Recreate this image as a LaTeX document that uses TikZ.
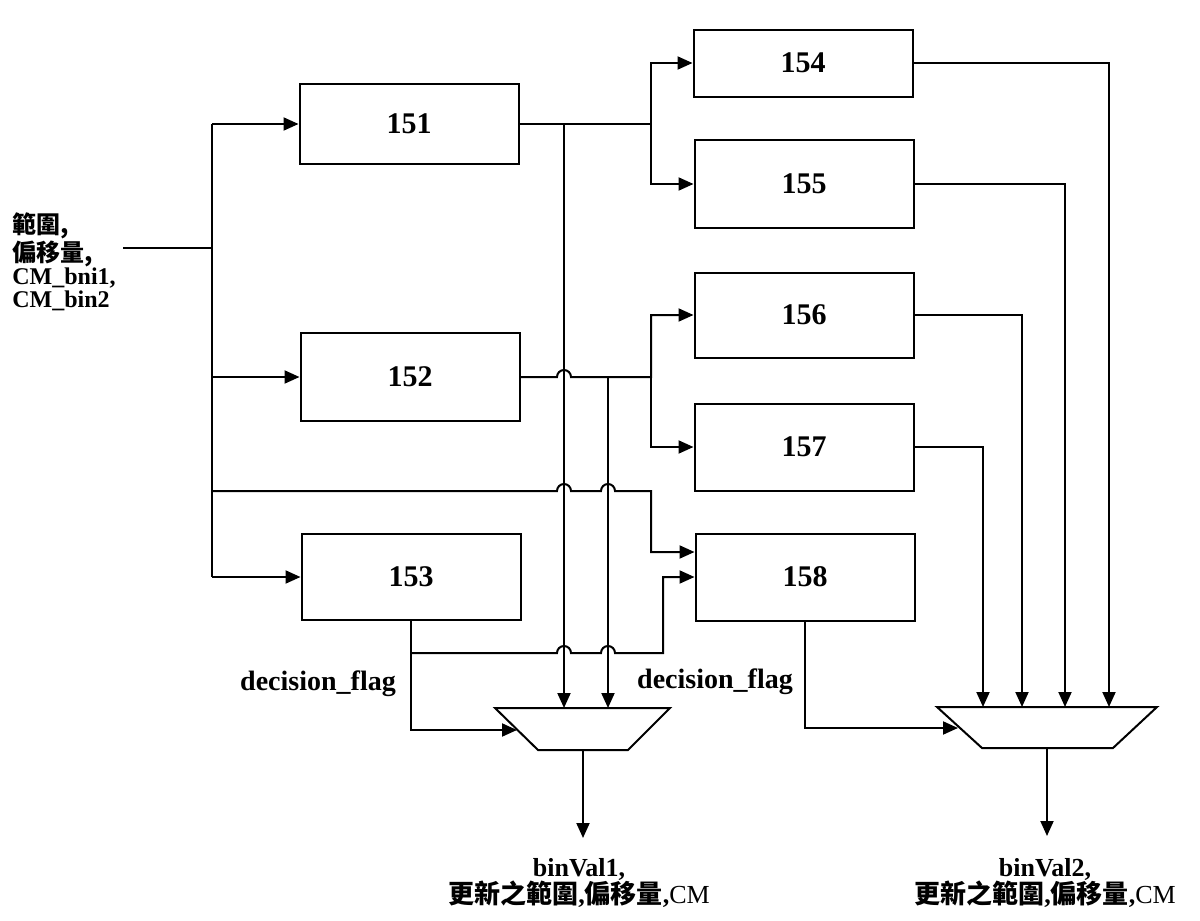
\documentclass[tikz,border=0pt]{standalone}
\usepackage{fontspec}
\setmainfont{Liberation Serif}
\newfontfamily\cjk{Noto Sans CJK TC}
\usetikzlibrary{arrows.meta}
\tikzset{
  blk/.style={draw, line width=1pt, minimum width=109.5pt, font=\fontsize{15}{17}\selectfont\bfseries},
  wire/.style={line width=1pt},
  arr/.style={wire, -{Triangle[length=7.5pt,width=6.5pt]}},
  lbl/.style={font=\fontsize{12.5}{13}\selectfont\bfseries, inner sep=0pt},
}
\begin{document}
\begin{tikzpicture}[x=0.5pt,y=-0.5pt]
\useasboundingbox (0,0) rectangle (1200,921);
% blocks
\node[blk, minimum height=40pt] (b151) at (409,124) {151};
\node[blk, minimum height=44pt] (b152) at (410,377) {152};
\node[blk, minimum height=43pt] (b153) at (411,577) {153};
\node[blk, minimum height=33.5pt] (b154) at (803,63) {154};
\node[blk, minimum height=44pt] (b155) at (804,184) {155};
\node[blk, minimum height=42.5pt] (b156) at (804,315) {156};
\node[blk, minimum height=43.5pt] (b157) at (804,447) {157};
\node[blk, minimum height=43.5pt] (b158) at (805,577) {158};
% muxes
\coordinate (m1nw) at (495,708); \coordinate (m1ne) at (670,708);
\coordinate (m1se) at (628,750); \coordinate (m1sw) at (538,750);
\coordinate (m1in) at (517,730);
\coordinate (m2nw) at (937,707); \coordinate (m2ne) at (1157,707);
\coordinate (m2se) at (1113,748); \coordinate (m2sw) at (982,748);
\coordinate (m2in) at (958,728);
\draw[wire] (m1nw) -- (m1ne) -- (m1se) -- (m1sw) -- cycle;
\draw[wire] (m2nw) -- (m2ne) -- (m2se) -- (m2sw) -- cycle;
% input bus
\node[lbl, anchor=west, align=left, font=\fontsize{12}{11.5}\selectfont\bfseries] (inlbl) at (12,262)
  {{\cjk 範圍,}\\{\cjk 偏移量,}\\CM\_bni1,\\CM\_bin2};
\coordinate (inp) at (123,248);
\coordinate (bus) at (212,0);
\coordinate (tapA) at (564,0);
\coordinate (tapB) at (608,0);
\coordinate (fanA) at (651,0);
\coordinate (fanB) at (663,0);
\draw[wire] (inp) -- (bus |- inp);
\draw[wire] (bus |- b151.west) -- (bus |- b153.west);
\draw[arr] (bus |- b151.west) -- (b151.west);
\draw[arr] (bus |- b152.west) -- (b152.west);
\draw[arr] (bus |- b153.west) -- (b153.west);
\draw[arr] (bus |- 0,491) -- (557,491) arc[start angle=180,end angle=360,radius=7]
  -- (601,491) arc[start angle=180,end angle=360,radius=7] -- (fanA |- 0,491) |- ([yshift=12.5pt]b158.west);
% 151 and 152 outputs
\draw[arr] (b151.east) -- (fanA |- b151.east) |- (b154.west);
\draw[arr] (fanA |- b151.east) |- (b155.west);
\draw[arr] (tapA |- b151.east) -- (tapA |- m1nw);
\draw[arr] (b152.east) -- (557,377) arc[start angle=180,end angle=360,radius=7]
  -- (fanA |- b152.east) |- (b156.west);
\draw[arr] (fanA |- b152.east) |- (b157.west);
\draw[arr] (tapB |- b152.east) -- (tapB |- m1nw);
% decision flags
\draw[arr] (b153.south) |- (m1in);
\draw[arr] (b153.south |- 0,653) -- (557,653) arc[start angle=180,end angle=360,radius=7]
  -- (601,653) arc[start angle=180,end angle=360,radius=7] -- (fanB |- 0,653) |- (b158.west);
\draw[arr] (b158.south) |- (m2in);
\node[lbl, font=\fontsize{14}{16}\selectfont\bfseries] (flag1) at (318,684) {decision\_flag};
\node[lbl, font=\fontsize{14}{16}\selectfont\bfseries] (flag2) at (715,682) {decision\_flag};
% right column into mux 2
\draw[arr] (b154.east) -| (1109,707);
\draw[arr] (b155.east) -| (1065,707);
\draw[arr] (b156.east) -| (1022,707);
\draw[arr] (b157.east) -| (983,707);
% outputs
\coordinate (m1out) at (583,750);
\coordinate (m2out) at (1047,748);
\draw[arr] (m1out) -- ++(0,88) coordinate (o1);
\draw[arr] (m2out) -- ++(0,88) coordinate (o2);
\node[lbl, align=center, font=\fontsize{13}{13.5}\selectfont\bfseries] (res1) at (579,883)
  {binVal1,\\{\cjk 更新之範圍}{,}{\cjk 偏移量}{,}{\mdseries CM}};
\node[lbl, align=center, font=\fontsize{13}{13.5}\selectfont\bfseries] (res2) at (1045,883)
  {binVal2,\\{\cjk 更新之範圍}{,}{\cjk 偏移量}{,}{\mdseries CM}};
\end{tikzpicture}
\end{document}
